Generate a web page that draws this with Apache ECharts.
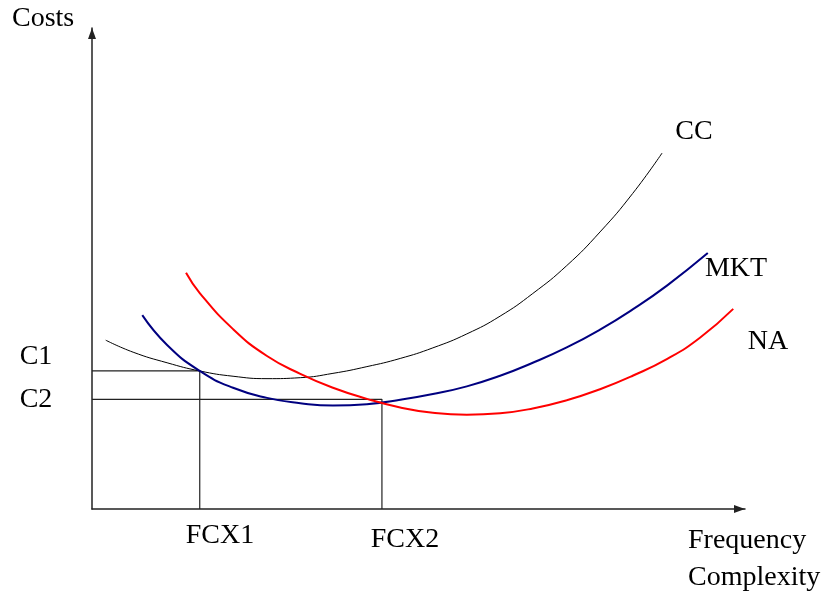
<!DOCTYPE html>
<html>
<head>
<meta charset="utf-8">
<script src="https://cdn.jsdelivr.net/npm/echarts@6/dist/echarts.min.js"></script>
<style>
  html, body { margin: 0; padding: 0; background: #fff; }
  #main { width: 827px; height: 592px; }
</style>
</head>
<body>
<div id="main"></div>
<script>
// Kostenkurven (x: Frequenz/Komplexität, y: Kosten), Skala 0..100
var ccPoints = [[2.1, 35.1], [6.3, 32.6], [11.5, 30.4], [16.5, 28.7], [21.6, 27.6], [26.8, 27.1],
    [31.9, 27.3], [36.9, 28.2], [42.1, 29.6], [47.2, 31.3], [52.2, 33.5], [57.4, 36.4],
    [62.5, 40.1], [67.5, 44.8], [72.7, 50.6], [77.8, 57.6], [82.8, 65.6], [87.3, 74.0]];
var mktPoints = [[7.7, 40.3], [11.5, 34.1], [16.5, 28.7], [21.6, 25.2], [26.8, 23.1], [31.9, 22.0],
    [36.9, 21.5], [42.1, 21.8], [47.2, 22.7], [52.2, 23.9], [57.4, 25.5], [62.5, 27.7],
    [67.5, 30.4], [72.7, 33.6], [77.8, 37.3], [82.8, 41.5], [88.1, 46.5], [94.3, 53.2]];
var naPoints = [[14.4, 49.1], [16.5, 44.9], [21.6, 37.4], [26.8, 31.8], [31.9, 28.1], [36.9, 25.2],
    [42.1, 22.9], [47.2, 21.1], [52.2, 20.0], [57.4, 19.6], [62.5, 19.9], [67.5, 20.9],
    [72.7, 22.6], [77.8, 24.9], [82.8, 27.7], [88.1, 31.2], [93.1, 35.6], [98.2, 41.6]];

// Hilfslinien
var c1 = 28.7, fcx1 = 16.5;
var c2 = 22.8, fcx2 = 44.4;

var curveNames = ['CC', 'MKT', 'NA'];
var curveColors = ['#000000', '#000080', '#ff0000'];
var curveWidths = [1, 2, 2];

var chart = echarts.init(document.getElementById('main'));
var font = '"Liberation Serif", "Times New Roman", serif';

function txt(text, x, y, align) {
    return {
        type: 'text', x: x, y: y,
        style: { text: text, fill: '#000', font: '28px ' + font, align: align || 'center', verticalAlign: 'middle' }
    };
}

var axisLine = {
    show: true,
    symbol: ['none', 'triangle'],
    symbolSize: [8, 11],
    symbolOffset: [0, -5.5],
    lineStyle: { color: '#222', width: 1.5 }
};

var option = {
    animation: false,
    grid: { left: 92, right: 82, top: 28, bottom: 83 },
    xAxis: {
        type: 'value', min: 0, max: 100,
        axisLine: axisLine,
        axisTick: { show: false }, axisLabel: { show: false }, splitLine: { show: false }
    },
    yAxis: {
        type: 'value', min: 0, max: 100,
        axisLine: axisLine,
        axisTick: { show: false }, axisLabel: { show: false }, splitLine: { show: false }
    },
    graphic: [
        txt('Costs', 12, 19, 'left'),
        txt('C1', 36, 357),
        txt('C2', 36, 400),
        txt('FCX1', 220, 536),
        txt('FCX2', 405, 540),
        txt('CC', 694, 132),
        txt('MKT', 736, 269),
        txt('NA', 768, 342),
        txt('Frequency', 688, 541, 'left'),
        txt('Complexity', 688, 578, 'left')
    ],
    series: [
        {
            type: 'line', data: [[0, c1], [fcx1, c1], [fcx1, 0]],
            showSymbol: false, lineStyle: { color: '#222', width: 1.2 }, z: 1
        },
        {
            type: 'line', data: [[0, c2], [fcx2, c2], [fcx2, 0]],
            showSymbol: false, lineStyle: { color: '#222', width: 1.2 }, z: 1
        }
    ].concat([ccPoints, mktPoints, naPoints].map(function (pts, i) {
        return {
            name: curveNames[i],
            type: 'line',
            data: pts,
            smooth: 0.5,
            showSymbol: false,
            lineStyle: { color: curveColors[i], width: curveWidths[i] },
            z: 2
        };
    }))
};

chart.setOption(option);
</script>
</body>
</html>
